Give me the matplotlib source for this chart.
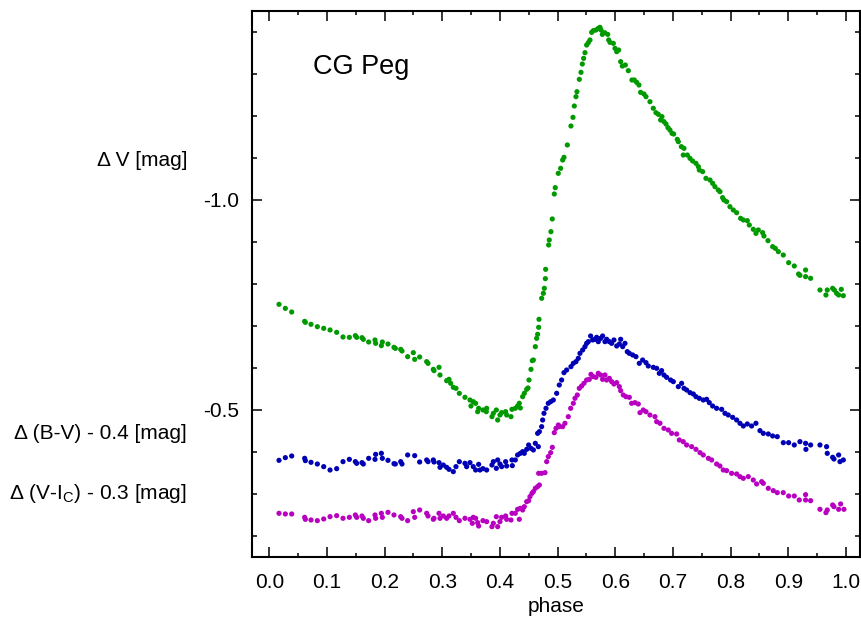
import matplotlib
matplotlib.use('Agg')
from matplotlib import pyplot as plt
from matplotlib.ticker import MultipleLocator
import matplotlib.transforms as mtransforms

plt.rcParams['font.family'] = ['Liberation Sans', 'DejaVu Sans']

# Delta V light curve (green)
v_phase = [0.0168, 0.0278, 0.0388, 0.0613, 0.0625, 0.0723, 0.0833, 0.0943, 0.1053, 0.1168,
           0.1278, 0.1388, 0.1492, 0.1515, 0.1607, 0.1630, 0.1723, 0.1833, 0.1844, 0.1943,
           0.1960, 0.2058, 0.2162, 0.2185, 0.2278, 0.2301, 0.2399, 0.2497, 0.2521, 0.2607,
           0.2729, 0.2752, 0.2844, 0.2856, 0.2943, 0.2960, 0.3075, 0.3116, 0.3145, 0.3191,
           0.3237, 0.3295, 0.3393, 0.3480, 0.3497, 0.3537, 0.3578, 0.3613, 0.3630, 0.3705,
           0.3763, 0.3769, 0.3861, 0.3885, 0.3937, 0.3960, 0.4000, 0.4029, 0.4098, 0.4116,
           0.4191, 0.4208, 0.4266, 0.4306, 0.4335, 0.4353, 0.4393, 0.4422, 0.4463, 0.4486,
           0.4503, 0.4538, 0.4561, 0.4579, 0.4613, 0.4636, 0.4653, 0.4671, 0.4677, 0.4723,
           0.4752, 0.4769, 0.4787, 0.4792, 0.4844, 0.4855, 0.4884, 0.4907, 0.4942, 0.4959,
           0.5011, 0.5052, 0.5087, 0.5110, 0.5168, 0.5231, 0.5266, 0.5289, 0.5318, 0.5335,
           0.5376, 0.5405, 0.5428, 0.5451, 0.5474, 0.5503, 0.5532, 0.5561, 0.5590, 0.5619,
           0.5665, 0.5705, 0.5734, 0.5752, 0.5775, 0.5816, 0.5868, 0.5885, 0.5908, 0.5966,
           0.5995, 0.6024, 0.6058, 0.6093, 0.6122, 0.6174, 0.6226, 0.6289, 0.6330, 0.6370,
           0.6410, 0.6439, 0.6497, 0.6532, 0.6601, 0.6659, 0.6705, 0.6746, 0.6786, 0.6809,
           0.6844, 0.6879, 0.6913, 0.6948, 0.6983, 0.7012, 0.7075, 0.7093, 0.7145, 0.7191,
           0.7179, 0.7249, 0.7295, 0.7341, 0.7399, 0.7440, 0.7457, 0.7515, 0.7572, 0.7642,
           0.7688, 0.7728, 0.7786, 0.7815, 0.7861, 0.7884, 0.7931, 0.7988, 0.8046, 0.8104,
           0.8173, 0.8220, 0.8289, 0.8324, 0.8393, 0.8439, 0.8480, 0.8555, 0.8578, 0.8648,
           0.8729, 0.8775, 0.8827, 0.8913, 0.9006, 0.9104, 0.9179, 0.9202, 0.9300, 0.9300,
           0.9387, 0.9549, 0.9653, 0.9676, 0.9769, 0.9798, 0.9838, 0.9873, 0.9919, 0.9954]
v_mag = [-0.7516, -0.7420, -0.7333, -0.7111, -0.7087, -0.7040, -0.6984, -0.6944, -0.6905, -0.6849,
         -0.6738, -0.6730, -0.6770, -0.6730, -0.6722, -0.6682, -0.6619, -0.6667, -0.6587, -0.6532,
         -0.6619, -0.6571, -0.6492, -0.6468, -0.6444, -0.6405, -0.6270, -0.6365, -0.6206, -0.6262,
         -0.6151, -0.6111, -0.5968, -0.5937, -0.6016, -0.5833, -0.5698, -0.5730, -0.5635, -0.5540,
         -0.5516, -0.5397, -0.5302, -0.5238, -0.5095, -0.5198, -0.5159, -0.4960, -0.5040, -0.5000,
         -0.4960, -0.5040, -0.4841, -0.4921, -0.5000, -0.4762, -0.4881, -0.4937, -0.4960, -0.4881,
         -0.4841, -0.5016, -0.5040, -0.5095, -0.5159, -0.5048, -0.5317, -0.5397, -0.5492, -0.5524,
         -0.5714, -0.5968, -0.6175, -0.6190, -0.6508, -0.6706, -0.6802, -0.6968, -0.7159, -0.7659,
         -0.7778, -0.7897, -0.8127, -0.8349, -0.8929, -0.9048, -0.9246, -0.9548, -1.0143, -1.0294,
         -1.0635, -1.0754, -1.0952, -1.1016, -1.1310, -1.1762, -1.1968, -1.2238, -1.2460, -1.2579,
         -1.2873, -1.3040, -1.3238, -1.3373, -1.3508, -1.3690, -1.3746, -1.3810, -1.3992, -1.4032,
         -1.4048, -1.4087, -1.4111, -1.4048, -1.3944, -1.3984, -1.3944, -1.3810, -1.3754, -1.3730,
         -1.3611, -1.3532, -1.3571, -1.3294, -1.3190, -1.3214, -1.3079, -1.2857, -1.2857, -1.2802,
         -1.2738, -1.2563, -1.2524, -1.2460, -1.2341, -1.2183, -1.2079, -1.2040, -1.1905, -1.1984,
         -1.1865, -1.1810, -1.1722, -1.1667, -1.1587, -1.1571, -1.1444, -1.1389, -1.1270, -1.1230,
         -1.1071, -1.1071, -1.0992, -1.0929, -1.0873, -1.0794, -1.0714, -1.0675, -1.0516, -1.0476,
         -1.0397, -1.0317, -1.0238, -1.0198, -1.0056, -1.0000, -0.9960, -0.9841, -0.9762, -0.9698,
         -0.9563, -0.9524, -0.9508, -0.9405, -0.9302, -0.9206, -0.9286, -0.9222, -0.9143, -0.9032,
         -0.8889, -0.8849, -0.8770, -0.8690, -0.8508, -0.8429, -0.8238, -0.8206, -0.8333, -0.8175,
         -0.8135, -0.7857, -0.7738, -0.7857, -0.7897, -0.7857, -0.7778, -0.7738, -0.7873, -0.7722]

# Delta (B-V) - 0.4 (blue)
bv_phase = [0.0168, 0.0278, 0.0388, 0.0613, 0.0625, 0.0723, 0.0833, 0.0943, 0.1053, 0.1168,
            0.1278, 0.1388, 0.1492, 0.1515, 0.1607, 0.1630, 0.1723, 0.1833, 0.1844, 0.1943,
            0.1960, 0.2058, 0.2162, 0.2185, 0.2278, 0.2301, 0.2399, 0.2521, 0.2607, 0.2729,
            0.2752, 0.2844, 0.2856, 0.2943, 0.2960, 0.3017, 0.3075, 0.3116, 0.3191, 0.3237,
            0.3295, 0.3393, 0.3422, 0.3480, 0.3537, 0.3578, 0.3630, 0.3653, 0.3705, 0.3769,
            0.3861, 0.3885, 0.3937, 0.3960, 0.4000, 0.4029, 0.4098, 0.4116, 0.4208, 0.4214,
            0.4266, 0.4306, 0.4353, 0.4393, 0.4422, 0.4463, 0.4497, 0.4538, 0.4579, 0.4613,
            0.4665, 0.4653, 0.4683, 0.4723, 0.4740, 0.4763, 0.4798, 0.4838, 0.4879, 0.4925,
            0.4983, 0.5029, 0.5069, 0.5110, 0.5156, 0.5231, 0.5272, 0.5318, 0.5358, 0.5387,
            0.5434, 0.5474, 0.5503, 0.5532, 0.5572, 0.5607, 0.5647, 0.5676, 0.5705, 0.5746,
            0.5780, 0.5821, 0.5850, 0.5896, 0.5937, 0.5977, 0.6024, 0.6070, 0.6093, 0.6128,
            0.6168, 0.6208, 0.6243, 0.6301, 0.6358, 0.6416, 0.6474, 0.6532, 0.6572, 0.6659,
            0.6717, 0.6763, 0.6803, 0.6844, 0.6890, 0.6959, 0.7006, 0.7093, 0.7150, 0.7191,
            0.7237, 0.7295, 0.7353, 0.7399, 0.7457, 0.7526, 0.7584, 0.7630, 0.7688, 0.7757,
            0.7844, 0.7902, 0.7959, 0.8035, 0.8104, 0.8162, 0.8220, 0.8289, 0.8364, 0.8439,
            0.8509, 0.8567, 0.8653, 0.8729, 0.8809, 0.8914, 0.9006, 0.9104, 0.9202, 0.9300,
            0.9306, 0.9387, 0.9549, 0.9664, 0.9676, 0.9769, 0.9792, 0.9873, 0.9896, 0.9954]
bv_mag = [-0.3801, -0.3865, -0.3905, -0.3849, -0.3794, -0.3754, -0.3714, -0.3651, -0.3571, -0.3603,
          -0.3770, -0.3825, -0.3770, -0.3730, -0.3746, -0.3714, -0.3849, -0.3825, -0.3944, -0.3968,
          -0.3849, -0.3801, -0.3722, -0.3714, -0.3770, -0.3714, -0.3929, -0.3913, -0.3762, -0.3810,
          -0.3770, -0.3810, -0.3762, -0.3746, -0.3635, -0.3690, -0.3635, -0.3587, -0.3532, -0.3651,
          -0.3770, -0.3730, -0.3651, -0.3746, -0.3651, -0.3571, -0.3706, -0.3571, -0.3603, -0.3571,
          -0.3690, -0.3770, -0.3611, -0.3810, -0.3714, -0.3651, -0.3770, -0.3667, -0.3810, -0.3675,
          -0.3810, -0.3929, -0.3968, -0.4008, -0.3968, -0.4063, -0.4167, -0.4087, -0.4048, -0.4206,
          -0.4127, -0.4444, -0.4484, -0.4603, -0.4762, -0.4921, -0.5040, -0.5159, -0.5198, -0.5238,
          -0.5397, -0.5595, -0.5714, -0.5889, -0.5952, -0.6032, -0.6111, -0.6151, -0.6230, -0.6349,
          -0.6429, -0.6508, -0.6587, -0.6627, -0.6762, -0.6667, -0.6683, -0.6730, -0.6627, -0.6706,
          -0.6762, -0.6627, -0.6683, -0.6627, -0.6587, -0.6667, -0.6524, -0.6571, -0.6683, -0.6508,
          -0.6587, -0.6389, -0.6349, -0.6310, -0.6270, -0.6111, -0.6190, -0.6127, -0.6048, -0.6016,
          -0.5992, -0.5873, -0.5937, -0.5833, -0.5778, -0.5714, -0.5675, -0.5556, -0.5635, -0.5516,
          -0.5476, -0.5413, -0.5381, -0.5317, -0.5278, -0.5238, -0.5254, -0.5175, -0.5095, -0.5040,
          -0.5016, -0.4921, -0.4881, -0.4825, -0.4762, -0.4683, -0.4619, -0.4667, -0.4619, -0.4683,
          -0.4508, -0.4444, -0.4429, -0.4381, -0.4365, -0.4222, -0.4222, -0.4167, -0.4246, -0.4206,
          -0.4063, -0.4167, -0.4167, -0.4127, -0.3968, -0.3873, -0.3833, -0.3929, -0.3770, -0.3810]

# Delta (V-Ic) - 0.3 (magenta)
vi_phase = [0.0168, 0.0278, 0.0388, 0.0613, 0.0625, 0.0723, 0.0833, 0.0943, 0.1053, 0.1168,
            0.1278, 0.1388, 0.1492, 0.1515, 0.1607, 0.1630, 0.1723, 0.1833, 0.1844, 0.1943,
            0.1960, 0.2058, 0.2162, 0.2278, 0.2301, 0.2399, 0.2497, 0.2521, 0.2607, 0.2729,
            0.2752, 0.2844, 0.2856, 0.2943, 0.2960, 0.3017, 0.3075, 0.3116, 0.3191, 0.3237,
            0.3295, 0.3393, 0.3480, 0.3520, 0.3537, 0.3578, 0.3613, 0.3630, 0.3705, 0.3769,
            0.3861, 0.3885, 0.3937, 0.3960, 0.4000, 0.4029, 0.4098, 0.4116, 0.4191, 0.4208,
            0.4266, 0.4306, 0.4335, 0.4353, 0.4393, 0.4422, 0.4463, 0.4497, 0.4520, 0.4555,
            0.4579, 0.4613, 0.4653, 0.4683, 0.4671, 0.4723, 0.4781, 0.4810, 0.4838, 0.4879,
            0.4908, 0.4942, 0.4971, 0.5012, 0.5029, 0.5087, 0.5127, 0.5185, 0.5226, 0.5272,
            0.5301, 0.5341, 0.5376, 0.5416, 0.5457, 0.5503, 0.5549, 0.5578, 0.5619, 0.5665,
            0.5705, 0.5746, 0.5780, 0.5821, 0.5850, 0.5896, 0.5937, 0.5977, 0.6024, 0.6070,
            0.6093, 0.6139, 0.6185, 0.6243, 0.6283, 0.6341, 0.6399, 0.6428, 0.6485, 0.6532,
            0.6601, 0.6688, 0.6717, 0.6775, 0.6844, 0.6919, 0.6977, 0.7064, 0.7110, 0.7179,
            0.7237, 0.7324, 0.7399, 0.7469, 0.7526, 0.7613, 0.7671, 0.7757, 0.7815, 0.7873,
            0.7931, 0.8017, 0.8104, 0.8162, 0.8220, 0.8306, 0.8393, 0.8451, 0.8538, 0.8567,
            0.8653, 0.8740, 0.8809, 0.8913, 0.9006, 0.9104, 0.9190, 0.9300, 0.9300, 0.9387,
            0.9549, 0.9653, 0.9676, 0.9769, 0.9792, 0.9873, 0.9908, 0.9965]
vi_mag = [-0.2540, -0.2524, -0.2524, -0.2444, -0.2397, -0.2381, -0.2365, -0.2405, -0.2460, -0.2484,
          -0.2421, -0.2444, -0.2500, -0.2444, -0.2476, -0.2421, -0.2365, -0.2500, -0.2421, -0.2540,
          -0.2444, -0.2563, -0.2500, -0.2460, -0.2421, -0.2365, -0.2579, -0.2444, -0.2619, -0.2540,
          -0.2476, -0.2397, -0.2421, -0.2540, -0.2421, -0.2476, -0.2421, -0.2476, -0.2540, -0.2444,
          -0.2365, -0.2421, -0.2397, -0.2302, -0.2444, -0.2421, -0.2317, -0.2238, -0.2365, -0.2341,
          -0.2222, -0.2302, -0.2460, -0.2222, -0.2341, -0.2444, -0.2476, -0.2397, -0.2381, -0.2540,
          -0.2540, -0.2635, -0.2397, -0.2659, -0.2619, -0.2698, -0.2817, -0.2841, -0.2937, -0.3016,
          -0.3056, -0.3135, -0.3175, -0.3214, -0.3492, -0.3492, -0.3508, -0.3770, -0.3889, -0.3984,
          -0.4111, -0.4460, -0.4563, -0.4643, -0.4603, -0.4603, -0.4683, -0.4841, -0.5040, -0.5159,
          -0.5278, -0.5357, -0.5516, -0.5571, -0.5635, -0.5714, -0.5730, -0.5849, -0.5794, -0.5778,
          -0.5873, -0.5833, -0.5730, -0.5833, -0.5714, -0.5754, -0.5675, -0.5619, -0.5651, -0.5556,
          -0.5460, -0.5357, -0.5317, -0.5302, -0.5159, -0.5175, -0.5143, -0.4937, -0.5000, -0.4960,
          -0.4881, -0.4841, -0.4722, -0.4683, -0.4563, -0.4524, -0.4444, -0.4429, -0.4286, -0.4246,
          -0.4167, -0.4127, -0.4063, -0.3984, -0.3929, -0.3849, -0.3810, -0.3714, -0.3667, -0.3571,
          -0.3556, -0.3492, -0.3476, -0.3413, -0.3373, -0.3413, -0.3333, -0.3238, -0.3294, -0.3254,
          -0.3135, -0.3079, -0.3032, -0.3032, -0.2952, -0.2952, -0.2857, -0.2984, -0.2857, -0.2841,
          -0.2635, -0.2556, -0.2619, -0.2738, -0.2698, -0.2635, -0.2762, -0.2635]

def main():
    fig = plt.figure(figsize=(8.61, 6.23), dpi=100)
    ax = fig.add_axes([0.2923, 0.1055, 0.7065, 0.8773])

    ax.scatter(v_phase, v_mag, s=14, color='#009a00', edgecolors='none')
    ax.scatter(bv_phase, bv_mag, s=14, color='#0000b4', edgecolors='none')
    ax.scatter(vi_phase, vi_mag, s=14, color='#b800c0', edgecolors='none')

    ax.set_xlim(-0.0306, 1.0243)
    ax.set_ylim(-0.1493, -1.4507)

    ax.xaxis.set_major_locator(MultipleLocator(0.1))
    ax.xaxis.set_minor_locator(MultipleLocator(0.05))
    ax.yaxis.set_major_locator(MultipleLocator(0.5))
    ax.yaxis.set_minor_locator(MultipleLocator(0.1))
    ax.xaxis.set_major_formatter(plt.FuncFormatter(lambda v, p: '%.1f' % v))
    ax.yaxis.set_major_formatter(plt.FuncFormatter(lambda v, p: '%.1f' % v))

    fs = 15
    ax.tick_params(which='both', direction='in', top=True, right=True, width=1.1,
                   labelsize=fs, colors='black')
    ax.tick_params(axis='x', which='major', length=7.5, pad=11)
    ax.tick_params(axis='x', which='minor', length=3)
    ax.tick_params(axis='y', which='major', length=7, pad=9)
    ax.tick_params(axis='y', which='minor', length=3.5)
    for sp in ax.spines.values():
        sp.set_linewidth(1.5)

    ax.set_xlabel('phase', fontsize=fs, labelpad=4)

    trans = mtransforms.blended_transform_factory(ax.transAxes, ax.transData)
    ax.text(-0.106, -1.093, 'Δ V [mag]', transform=trans, ha='right', va='center', fontsize=fs)
    ax.text(-0.106, -0.445, 'Δ (B-V) - 0.4 [mag]', transform=trans, ha='right',
            va='center', fontsize=fs)
    ax.text(-0.106, -0.302, r'Δ (V-I$_\mathregular{C}$) - 0.3 [mag]', transform=trans,
            ha='right', va='center', fontsize=fs)

    ax.text(0.0758, -1.3, 'CG Peg', fontsize=19.5, ha='left', va='baseline')

    fig.savefig('out.png', dpi=100)
    plt.close(fig)

if __name__ == '__main__':
    main()
